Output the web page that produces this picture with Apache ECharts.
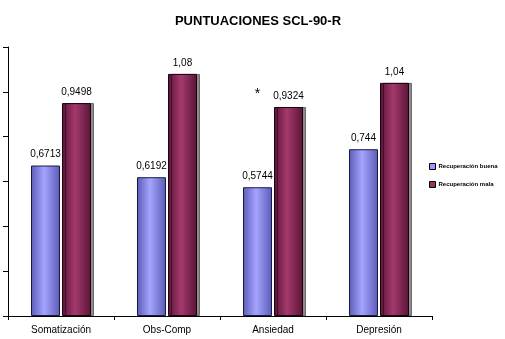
<!DOCTYPE html>
<html><head><meta charset="utf-8">
<script src="https://cdn.jsdelivr.net/npm/echarts@6/dist/echarts.min.js"></script>
<style>html,body{margin:0;padding:0;background:#fff}#c{width:505px;height:339px}</style>
</head><body><div id="c"></div>
<script>
const categories = ['Somatización', 'Obs-Comp', 'Ansiedad', 'Depresión'];
const seriesNames = ['Recuperación buena', 'Recuperación mala'];
const buena = [0.6713, 0.6192, 0.5744, 0.744];
const mala = [0.9498, 1.08, 0.9324, 1.04];
const starCategory = 'Ansiedad';
const starValue = 0.99;

const chart = echarts.init(document.getElementById('c'));
function grad(edge, mid) {
  return new echarts.graphic.LinearGradient(0, 0, 1, 0, [
    {offset: 0, color: edge}, {offset: 0.45, color: mid}, {offset: 1, color: edge}
  ]);
}
const fmt = p => String(p.value).replace('.', ',');
const lbl = {show: true, position: 'top', distance: 6, color: '#000', fontSize: 10,
  fontFamily: 'Liberation Sans, Arial, sans-serif', formatter: fmt};
chart.setOption({
  animation: false,
  title: {text: 'PUNTUACIONES SCL-90-R', left: 253, textAlign: 'center', top: 10,
    textStyle: {fontSize: 13, fontWeight: 'bold', color: '#000', fontFamily: 'Liberation Sans, Arial, sans-serif'}},
  legend: {orient: 'vertical', left: 424, top: 158, itemWidth: 6, itemHeight: 6, itemGap: 11,
    icon: 'rect', textStyle: {fontSize: 6, fontWeight: 'bold', color: '#000', padding: [0, 0, 0, -2],
      fontFamily: 'Liberation Sans, Arial, sans-serif'},
    data: [
      {name: seriesNames[0], itemStyle: {color: '#9999ff', borderColor: '#000', borderWidth: 1}},
      {name: seriesNames[1], itemStyle: {color: '#993366', borderColor: '#000', borderWidth: 1}}
    ]},
  grid: {left: 8, right: 73, top: 47, bottom: 23},
  xAxis: {type: 'category', data: categories,
    axisLine: {lineStyle: {color: '#000', width: 1}},
    axisTick: {show: true, length: 4, lineStyle: {color: '#000'}},
    axisLabel: {color: '#000', fontSize: 10, margin: 9, fontFamily: 'Liberation Sans, Arial, sans-serif'}},
  yAxis: {type: 'value', min: 0, max: 1.2, interval: 0.2,
    axisLine: {show: true, lineStyle: {color: '#000', width: 1}},
    axisTick: {show: true, length: 5, lineStyle: {color: '#000'}},
    axisLabel: {show: false}, splitLine: {show: false}},
  series: [
    {name: seriesNames[0], type: 'bar', data: buena, barWidth: 29, barGap: '7%',
      itemStyle: {color: grad('#5c5cb8', '#a4a4ff'), borderColor: '#1a1a40', borderWidth: 1},
      label: lbl,
      markPoint: {symbol: 'circle', symbolSize: 0,
        label: {show: true, formatter: '*', color: '#000', fontSize: 14, position: 'inside',
          fontFamily: 'Liberation Sans, Arial, sans-serif'},
        data: [{coord: [starCategory, starValue], value: '*'}]}},
    {name: seriesNames[1], type: 'bar', data: mala, barWidth: 29,
      itemStyle: {color: grad('#5a1438', '#a43a6c'), borderColor: '#200010', borderWidth: 1,
        shadowColor: 'rgba(0,0,0,0.45)', shadowOffsetX: 3, shadowOffsetY: 0, shadowBlur: 0},
      label: lbl}
  ]
});
</script></body></html>
